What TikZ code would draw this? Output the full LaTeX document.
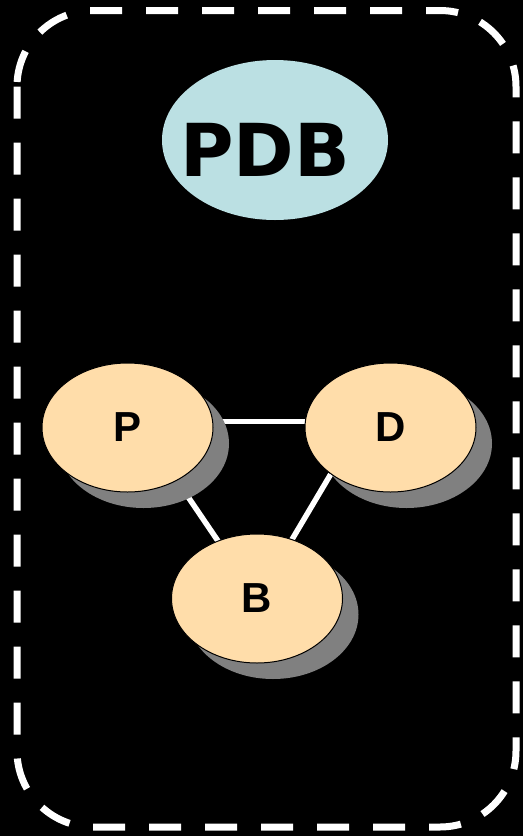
\documentclass[tikz,border=0pt]{standalone}
\usepackage{fontspec}
\newfontfamily\pdbfont{DejaVu Sans}
\newfontfamily\tablefont{Liberation Sans}
\usetikzlibrary{shapes.geometric,shadows,backgrounds}
\definecolor{pdbblue}{RGB}{187,224,227}
\definecolor{tablefill}{RGB}{255,221,170}
\definecolor{shadowgray}{RGB}{128,128,128}
\begin{document}
\begin{tikzpicture}[x=1pt,y=-1pt,
	table/.style={ellipse, draw=black, line width=1pt, fill=tablefill, minimum width=171pt, minimum height=129pt, inner sep=0pt,
		font=\tablefont\bfseries\fontsize{42}{46}\selectfont,
		drop shadow={shadow xshift=16pt, shadow yshift=-16pt, fill=shadowgray, opacity=1}},
	link/.style={white, line width=5.5pt}]
		\useasboundingbox (0,0) rectangle (523,836);
		\begin{pgfonlayer}{background}
		\fill[black] (0,0) rectangle (523,836);
		\end{pgfonlayer}
		\draw[white, line width=7pt, dash pattern=on 32pt off 24pt, rounded corners=76pt] (17,10.5) rectangle (516,827);
		\node[ellipse, fill=pdbblue, minimum width=226pt, minimum height=160pt] (pdb) at (275,140) {};
		\node[font=\pdbfont\bfseries\fontsize{73}{80}\selectfont] (pdblabel) at (265,150) {PDB};
		\node[table] (p) at (127.5,427.5) {P};
		\node[table] (d) at (390.5,427.5) {D};
		\node[table] (b) at (257,598.5) {B};
		\begin{pgfonlayer}{background}
		\draw[link] (p.4) -- (d.176);
		\draw[link] (p.-47) -- (b.center);
		\draw[link] (d.-142) -- (b.center);
		\end{pgfonlayer}
\end{tikzpicture}
\end{document}
